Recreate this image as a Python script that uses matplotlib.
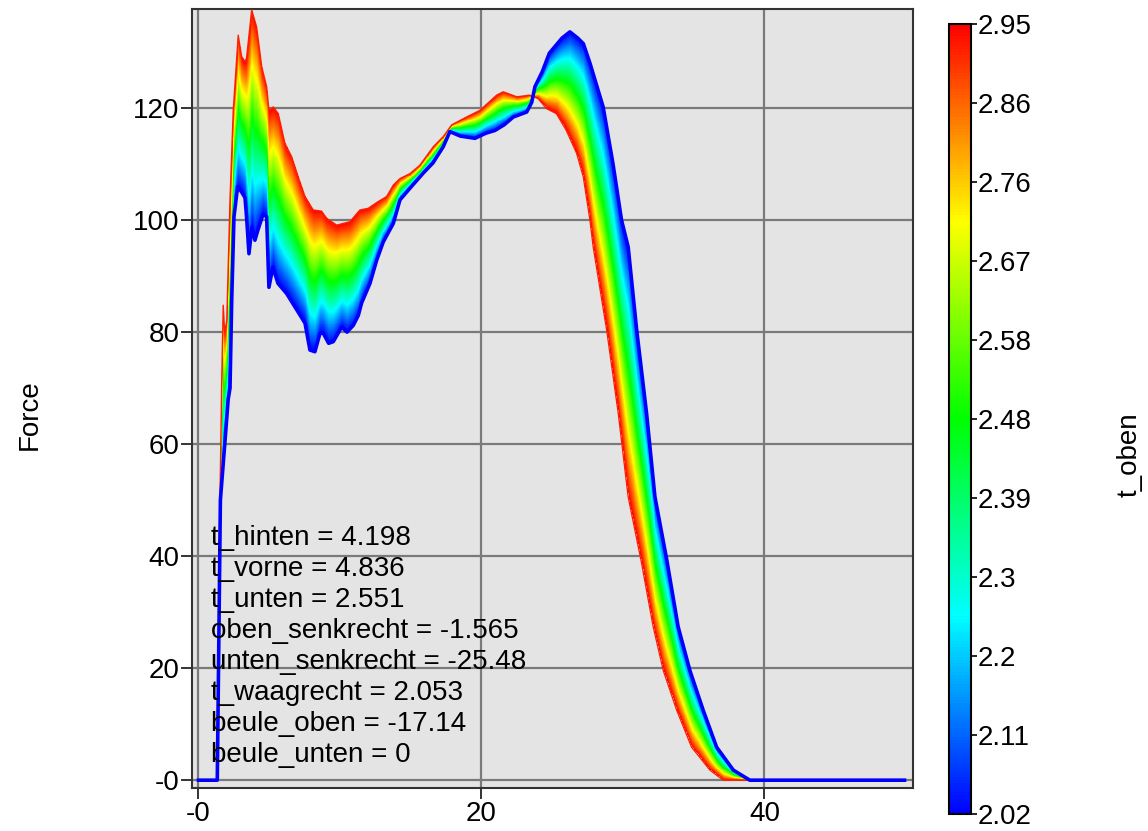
import matplotlib
matplotlib.use("Agg")
import matplotlib.pyplot as plt
import numpy as np
from matplotlib.colors import LinearSegmentedColormap, Normalize
from matplotlib.cm import ScalarMappable

plt.rcParams['font.family'] = ['Liberation Sans', 'DejaVu Sans']

# curve for the lowest t_oben (2.02, blue)
x_blue = [0, 1.33, 1.55, 1.95, 2.1, 2.23, 2.35, 2.51, 2.77, 3.05, 3.29, 3.4, 3.57, 3.78,
          3.99, 4.2, 4.56, 4.82, 4.98, 5.26, 5.62, 6.23, 6.82, 7.53, 7.88, 8.23, 8.59,
          8.82, 9.2, 9.53, 10.12, 10.5, 10.94, 11.3, 11.53, 12.12, 12.59, 13.06, 13.77,
          14.24, 14.95, 15.89, 16.57, 17.3, 17.77, 18.5, 19.54, 20.3, 20.95, 21.6, 22.25,
          23.2, 23.55, 23.78, 24.3, 24.8, 25.7, 26.25, 26.8, 27.2, 27.67, 28.6, 29.3,
          29.9, 30.37, 30.97, 31.67, 32.26, 33.1, 33.9, 34.73, 35.67, 36.62, 37.8,
          38.97, 49.9]
y_blue = [0, 0, 50, 63, 68, 70, 85.7, 100.6, 106, 105, 104, 100.6, 94, 98.8,
          96.4, 98.2, 101, 100.6, 88, 91.6, 88.7, 86.9, 84.5, 81.6, 76.8, 76.5, 79.8,
          79.8, 78, 78.3, 80.9, 80, 81.2, 83, 85.2, 88.7, 92.8, 96.1, 99.4,
          103.6, 105.7, 108.4, 110.2, 113.1, 115.8, 115, 114.6, 115.5, 116, 117, 118.4,
          119.3, 121, 123.8, 126.5, 129.8, 132.5, 133.6, 132.5, 131.5, 128, 120.2, 110,
          100, 95.2, 80.4, 65.5, 50.6, 39.3, 27.4, 19.6, 12.5, 5.9, 1.8,
          0, 0]

# curve for the highest t_oben (2.95, red)
x_red = [0, 1.33, 1.52, 1.65, 1.75, 1.85, 2.0, 2.23, 2.46, 2.81, 3.05, 3.29, 3.4, 3.76,
         4.11, 4.47, 4.82, 4.98, 5.29, 5.64, 6.11, 6.59, 7.05, 7.53, 8.11, 8.7, 9.06,
         9.77, 10.7, 11.41, 12.0, 12.7, 13.3, 13.77, 14.24, 14.95, 15.65, 16.6, 17.3,
         17.9, 18.95, 19.9, 21.07, 21.54, 22.5, 23.4, 24.0, 24.6, 25.3, 26.0, 26.73,
         27.2, 27.67, 27.9, 28.85, 29.67, 30.37, 31.3, 32.14, 32.85, 33.8, 34.85,
         36.15, 37.09, 49.9]
y_red = [0, 0, 50, 72, 84.8, 80, 82, 103.6, 119.6, 133, 129.2, 128.3, 128.9, 137.5,
         134.5, 127.4, 123.8, 119.6, 120.2, 119, 113.7, 111.3, 107.7, 104.2, 101.8, 101.6, 100.3,
         99.1, 99.7, 101.8, 102.1, 103.3, 104.2, 106.25, 107.4, 108.3, 109.8, 113.1, 114.9,
         117, 118.4, 119.6, 122.3, 122.9, 122, 122.3, 121.7, 119.9, 119, 116, 111.9,
         107.7, 100, 95.2, 80.4, 65.5, 50.6, 39, 27.4, 19.6, 12.5, 5.9,
         1.8, 0, 0]

t_min, t_max = 2.02, 2.95
cbar_ticks = [2.02, 2.113, 2.206, 2.299, 2.392, 2.485, 2.578, 2.671, 2.764, 2.857, 2.95]
cbar_labels = ['2.02', '2.11', '2.2', '2.3', '2.39', '2.48', '2.58', '2.67', '2.76', '2.86', '2.95']

x_ticks = [0, 20, 40]
x_ticklabels = ['-0', '20', '40']
y_ticks = [0, 20, 40, 60, 80, 100, 120]
y_ticklabels = ['-0', '20', '40', '60', '80', '100', '120']

param_lines = ['t_hinten = 4.198', 't_vorne = 4.836', 't_unten = 2.551',
               'oben_senkrecht = -1.565', 'unten_senkrecht = -25.48',
               't_waagrecht = 2.053', 'beule_oben = -17.14', 'beule_unten = 0']

cmap = LinearSegmentedColormap.from_list(
    't_oben', ['#0000ff', '#00ffff', '#00ff00', '#ffff00', '#ff0000'])

fig = plt.figure(figsize=(11.48, 8.31), dpi=100)
ax = fig.add_axes([0.1672, 0.0517, 0.6281, 0.9369])
ax.set_facecolor('#e4e4e4')
ax.set_xlim(-0.46, 50.5)
ax.set_ylim(-1.4, 137.6)

# shade the band between the two extreme curves with the t_oben colour
xg = np.linspace(-0.46, 50.5, 2600)
yg = np.linspace(-1.4, 137.6, 1600)
X, Y = np.meshgrid(xg, yg)
yb = np.interp(xg, x_blue, y_blue)[None, :]
yr = np.interp(xg, x_red, y_red)[None, :]
diff = yr - yb
with np.errstate(divide='ignore', invalid='ignore'):
    frac = (Y - yb) / diff
frac[(np.abs(diff) < 1e-6).repeat(len(yg), axis=0)] = np.nan
frac = np.ma.masked_where(~np.isfinite(frac) | (frac < 0) | (frac > 1), frac)
ax.imshow(frac, extent=(xg[0], xg[-1], yg[0], yg[-1]), origin='lower',
          cmap=cmap, vmin=0, vmax=1, aspect='auto', interpolation='nearest', zorder=2)

ax.plot(x_red, y_red, color='#ff2000', lw=1.0, zorder=3)
ax.plot(x_blue, y_blue, color='#0000ff', lw=2.6, zorder=4, solid_joinstyle='round')

ax.set_xticks(x_ticks)
ax.set_xticklabels(x_ticklabels)
ax.set_yticks(y_ticks)
ax.set_yticklabels(y_ticklabels)
ax.tick_params(axis='both', labelsize=20, length=8, width=1.4, color='#333333', pad=1)
ax.grid(True, color='#7a7a7a', lw=1.6)
ax.set_axisbelow(True)
for sp in ax.spines.values():
    sp.set_color('#333333')
    sp.set_linewidth(1.5)

for i, line in enumerate(param_lines):
    ax.text(0.027, 0.3211 - i * 0.0398, line, transform=ax.transAxes,
            fontsize=20, va='center', ha='left', zorder=5)

fig.text(30 / 1148, 1 - 415 / 831, 'Force', rotation=90, fontsize=20,
         ha='center', va='center')

cax = fig.add_axes([0.8267, 0.0205, 0.0192, 0.9507])
sm = ScalarMappable(norm=Normalize(t_min, t_max), cmap=cmap)
cbar = fig.colorbar(sm, cax=cax)
cbar.set_ticks(cbar_ticks)
cbar.set_ticklabels(cbar_labels)
cbar.ax.tick_params(labelsize=20, length=4, width=1.2, pad=1)
cbar.outline.set_linewidth(1.5)
fig.text(1130 / 1148, 1 - 455 / 831, 't_oben', rotation=90, fontsize=20,
         ha='center', va='center')

fig.savefig('out.png', dpi=100)
